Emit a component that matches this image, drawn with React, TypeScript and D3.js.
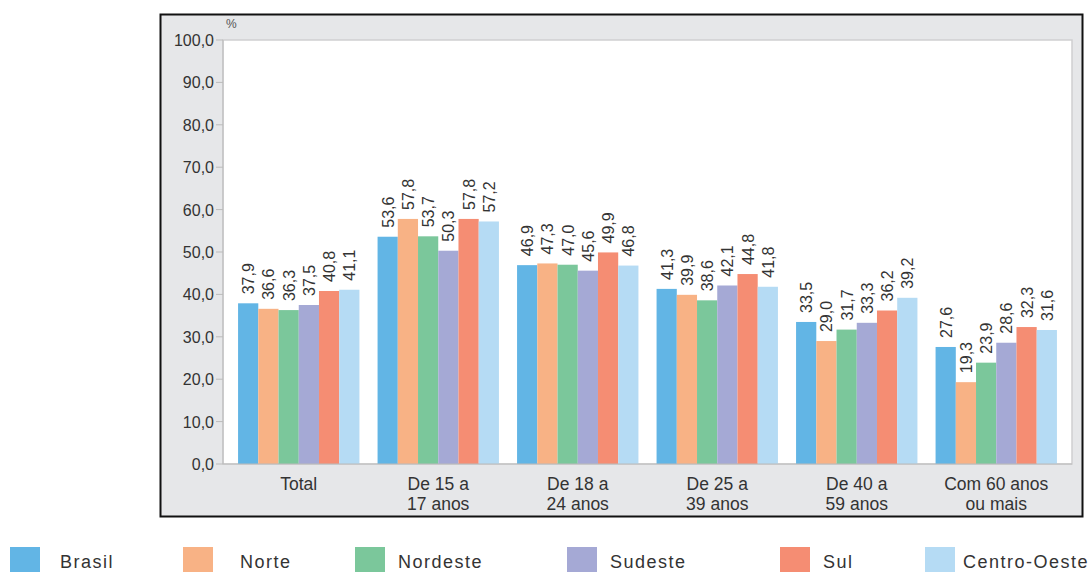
import React from "react";
import * as d3 from "d3";

const categories: string[][] = [
  ["Total"],
  ["De 15 a", "17 anos"],
  ["De 18 a", "24 anos"],
  ["De 25 a", "39 anos"],
  ["De 40 a", "59 anos"],
  ["Com 60 anos", "ou mais"],
];
const seriesNames = ["Brasil", "Norte", "Nordeste", "Sudeste", "Sul", "Centro-Oeste"];
const seriesColors = ["#62b5e5", "#f8b285", "#7bc79b", "#a5a9d5", "#f58d73", "#b5dbf4"];
const brasil = [37.9, 53.6, 46.9, 41.3, 33.5, 27.6];
const norte = [36.6, 57.8, 47.3, 39.9, 29.0, 19.3];
const nordeste = [36.3, 53.7, 47.0, 38.6, 31.7, 23.9];
const sudeste = [37.5, 50.3, 45.6, 42.1, 33.3, 28.6];
const sul = [40.8, 57.8, 49.9, 44.8, 36.2, 32.3];
const centroOeste = [41.1, 57.2, 46.8, 41.8, 39.2, 31.6];
const yTicks = [0, 10, 20, 30, 40, 50, 60, 70, 80, 90, 100];

const series = [brasil, norte, nordeste, sudeste, sul, centroOeste];
const legendX = [10, 183, 355, 567, 780, 925];
const legendTextX = [60, 240, 398, 610, 823, 963];

const fmt = (v: number) => v.toFixed(1).replace(".", ",");

export default function App() {
  const W = 1091, H = 572;
  const plotL = 223, plotR = 1072, plotT = 40, plotB = 464;
  const x0 = d3.scaleBand<number>().domain(d3.range(categories.length)).range([plotL, plotR]).paddingInner(0.13).paddingOuter(0.108);
  const x1 = d3.scaleBand<number>().domain(d3.range(seriesNames.length)).range([0, x0.bandwidth()]);
  const y = d3.scaleLinear().domain([0, 100]).range([plotB, plotT]);
  const font = "'Liberation Sans', Arial, sans-serif";
  return (
    <svg width={W} height={H} style={{ position: "absolute", left: 0, top: 0, background: "#fff" }} fontFamily={font}>
      <rect x={160.5} y={14.5} width={922} height={502} fill="#e6e7e9" stroke="#111" strokeWidth={2} />
      <rect x={plotL} y={plotT} width={plotR - plotL} height={plotB - plotT} fill="#fff" stroke="#cfcfd1" strokeWidth={1.5} />
      <text x={226} y={28} fontSize={12} fill="#555">%</text>
      {yTicks.map((t) => (
        <g key={t}>
          <line x1={plotL - 7} x2={plotL} y1={y(t)} y2={y(t)} stroke="#bbb" />
          <text x={plotL - 9} y={y(t) + 6} textAnchor="end" fontSize={16} fill="#333">{fmt(t)}</text>
        </g>
      ))}
      {categories.map((c, i) => (
        <g key={i}>
          {series.map((s, j) => {
            const bx = (x0(i) as number) + (x1(j) as number);
            const bw = x1.bandwidth();
            const v = s[i];
            return (
              <g key={j}>
                <rect x={bx} y={y(v)} width={bw} height={plotB - y(v)} fill={seriesColors[j]} />
                <text transform={`translate(${bx + bw / 2 + 6},${y(v) - 9}) rotate(-90)`} fontSize={16} fill="#333">{fmt(v)}</text>
              </g>
            );
          })}
          {c.map((line, k) => (
            <text key={k} x={(x0(i) as number) + x0.bandwidth() / 2} y={490 + k * 20} textAnchor="middle" fontSize={17.5} fill="#333">{line}</text>
          ))}
        </g>
      ))}
      <line x1={plotL} x2={plotR} y1={plotB} y2={plotB} stroke="#bbb" />
      <line x1={plotL} x2={plotL} y1={plotT} y2={plotB} stroke="#bbb" />
      {seriesNames.map((n, j) => (
        <g key={n}>
          <rect x={legendX[j]} y={547} width={30} height={25} fill={seriesColors[j]} />
          <text x={legendTextX[j]} y={568} fontSize={18} letterSpacing={1.5} fill="#333">{n}</text>
        </g>
      ))}
    </svg>
  );
}
